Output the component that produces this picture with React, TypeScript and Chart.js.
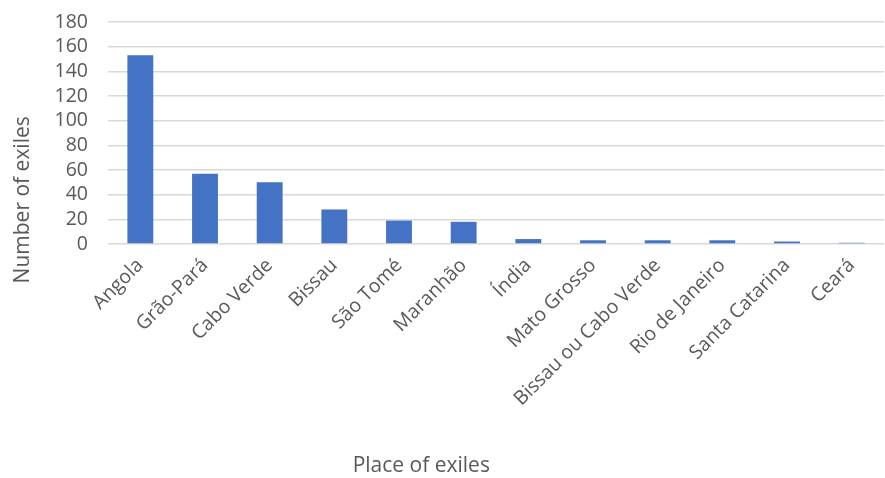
import React, { useEffect, useRef } from "react";
import { Chart, registerables } from "chart.js";

Chart.register(...registerables);

const places = [
  "Angola",
  "Grão-Pará",
  "Cabo Verde",
  "Bissau",
  "São Tomé",
  "Maranhão",
  "Índia",
  "Mato Grosso",
  "Bissau ou Cabo Verde",
  "Rio de Janeiro",
  "Santa Catarina",
  "Ceará",
];
const exiles = [153, 57, 50, 28, 19, 18, 4, 3, 3, 3, 2, 1];

const yTitle = "Number of exiles";
const xTitle = "Place of exiles";

const W = 885;
const H = 478;
const FONT = "'Open Sans', 'DejaVu Sans', sans-serif";
const TEXT = "#595959";

// Axis titles are centred on the whole chart box rather than on the plot area.
const axisTitles = {
  id: "axisTitles",
  afterDraw(chart: Chart) {
    const { ctx } = chart;
    ctx.save();
    ctx.fillStyle = TEXT;
    ctx.font = `21px ${FONT}`;
    ctx.textAlign = "center";
    ctx.textBaseline = "middle";
    ctx.fillText(xTitle, chart.width * 0.476, chart.height - 12);
    ctx.translate(23, chart.height * 0.418);
    ctx.rotate(-Math.PI / 2);
    ctx.fillText(yTitle, 0, 0);
    ctx.restore();
  },
};

export default function App() {
  const ref = useRef<HTMLCanvasElement>(null);

  useEffect(() => {
    if (!ref.current) return;
    const chart = new Chart(ref.current, {
      type: "bar",
      data: {
        labels: places,
        datasets: [
          {
            data: exiles,
            backgroundColor: "#4472C4",
            barPercentage: 0.4,
            categoryPercentage: 1,
          },
        ],
      },
      options: {
        animation: false,
        responsive: false,
        maintainAspectRatio: false,
        layout: { padding: { top: 22, right: 1, bottom: 0, left: 0 } },
        plugins: {
          legend: { display: false },
          tooltip: { enabled: false },
        },
        scales: {
          x: {
            grid: { display: false },
            border: { display: false },
            ticks: {
              color: TEXT,
              font: { family: FONT, size: 19.5 },
              minRotation: 45,
              maxRotation: 45,
              autoSkip: false,
              padding: 2,
            },
            afterFit(scale: any) {
              scale.height = 234;
            },
          },
          y: {
            min: 0,
            max: 180,
            afterFit(scale: any) {
              scale.width = 108;
              scale.paddingTop = 0;
            },
            ticks: {
              stepSize: 20,
              autoSkip: false,
              color: TEXT,
              font: { family: FONT, size: 19.5 },
              padding: 20,
            },
            grid: { color: "#d9d9d9", lineWidth: 1.5, drawTicks: false },
            border: { display: false },
          },
        },
      },
      plugins: [axisTitles],
    });
    return () => chart.destroy();
  }, []);

  return (
    <div style={{ position: "absolute", left: 0, top: 0, width: W, height: H, background: "#fff" }}>
      <canvas ref={ref} width={W} height={H} style={{ width: W, height: H }} />
    </div>
  );
}
